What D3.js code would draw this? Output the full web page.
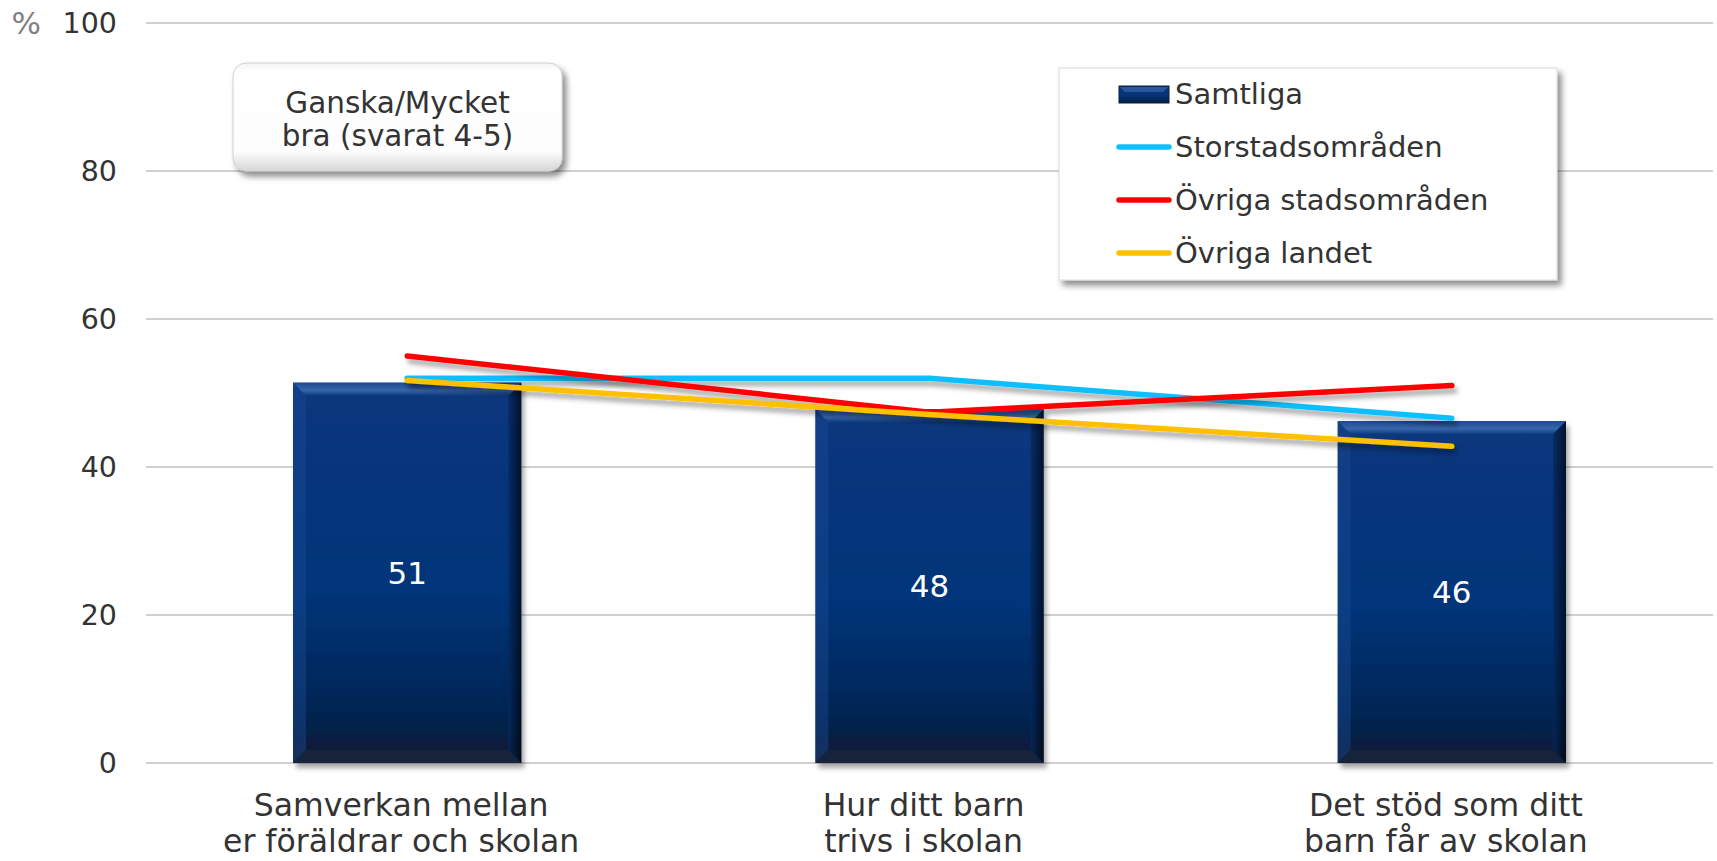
<!DOCTYPE html>
<html>
<head>
<meta charset="utf-8">
<script src="https://cdn.jsdelivr.net/npm/d3@7/dist/d3.min.js"></script>
<style>
  body { margin:0; background:#fff; }
  svg { display:block; font-family:"DejaVu Sans", Verdana, sans-serif; }
</style>
</head>
<body>
<div id="chart"></div>
<script>
(function () {
    // data
    var categories = ["Samverkan mellan\ner föräldrar och skolan",
                      "Hur ditt barn\ntrivs i skolan",
                      "Det stöd som ditt\nbarn får av skolan"];
    var samtliga      = [51.4, 47.8, 46.2];
    var storstad      = [52.0, 52.0, 46.6];
    var ovrigaStad    = [55.0, 47.4, 51.0];
    var ovrigaLandet  = [51.7, 47.1, 42.8];
    var yTicks = [0, 20, 40, 60, 80, 100];
    var seriesNames = ["Samtliga", "Storstadsområden", "Övriga stadsområden", "Övriga landet"];
    var lineColors  = ["#10bfff", "#ff0000", "#ffc000"];
    var boxText = ["Ganska/Mycket", "bra (svarat 4-5)"];

    var W = 1717, H = 861;
    var margin = {top:23, left:146, right:4, bottom:98};
    var width = W - margin.left - margin.right,
        height = H - margin.top - margin.bottom;

    var svg = d3.select("#chart").append("svg")
                .attr("width", W).attr("height", H);

    var defs = svg.append("defs");

    var g1 = defs.append("linearGradient").attr("id","barGrad")
                 .attr("x1",0).attr("y1",0).attr("x2",0).attr("y2",1);
    g1.append("stop").attr("offset","0%").attr("stop-color","#07377e");
    g1.append("stop").attr("offset","55%").attr("stop-color","#063479");
    g1.append("stop").attr("offset","85%").attr("stop-color","#052656");
    g1.append("stop").attr("offset","100%").attr("stop-color","#081931");

    var gt = defs.append("linearGradient").attr("id","topBev")
                 .attr("x1",0).attr("y1",0).attr("x2",0).attr("y2",1);
    gt.append("stop").attr("offset","0%").attr("stop-color","#1d4b92");
    gt.append("stop").attr("offset","60%").attr("stop-color","#3866ab");
    gt.append("stop").attr("offset","100%").attr("stop-color","#0b3b80");

    var gr = defs.append("linearGradient").attr("id","rightBev")
                 .attr("x1",0).attr("y1",0).attr("x2",1).attr("y2",0);
    gr.append("stop").attr("offset","0%").attr("stop-color","#05295e");
    gr.append("stop").attr("offset","100%").attr("stop-color","#000510");

    var g2 = defs.append("linearGradient").attr("id","boxGrad")
                 .attr("x1",0).attr("y1",0).attr("x2",0).attr("y2",1);
    g2.append("stop").attr("offset","0%").attr("stop-color","#f4f4f4");
    g2.append("stop").attr("offset","8%").attr("stop-color","#ffffff");
    g2.append("stop").attr("offset","82%").attr("stop-color","#fdfdfd");
    g2.append("stop").attr("offset","100%").attr("stop-color","#d6d6d6");

    var f1 = defs.append("filter").attr("id","shadow")
                 .attr("x","-10%").attr("y","-20%").attr("width","130%").attr("height","160%");
    f1.append("feDropShadow").attr("dx",3).attr("dy",5).attr("stdDeviation",2.5)
      .attr("flood-color","#000").attr("flood-opacity",0.35);

    var f2 = defs.append("filter").attr("id","boxShadow")
                 .attr("x","-10%").attr("y","-20%").attr("width","130%").attr("height","160%");
    f2.append("feDropShadow").attr("dx",4).attr("dy",5).attr("stdDeviation",3)
      .attr("flood-color","#000").attr("flood-opacity",0.45);

    var g = svg.append("g")
               .attr("transform","translate("+margin.left+","+margin.top+")");

    var x = d3.scaleBand().domain(categories).range([0, width])
              .paddingInner(0.563).paddingOuter(0.2815);
    var y = d3.scaleLinear().domain([0,100]).range([height, 0]);

    // gridlines
    g.selectAll(".grid").data(yTicks).enter().append("line")
     .attr("x1",0).attr("x2",width)
     .attr("y1",function(d){ return y(d); }).attr("y2",function(d){ return y(d); })
     .attr("stroke","#c0c0c0").attr("stroke-width",1.5);

    // y axis labels
    var yAxis = d3.axisLeft(y).tickValues(yTicks).tickSize(0).tickPadding(29);
    var ya = g.append("g").call(yAxis);
    ya.select(".domain").remove();
    ya.selectAll("text").attr("font-size",28.5).attr("fill","#333")
      .attr("font-family","DejaVu Sans, Verdana, sans-serif");

    svg.append("text").attr("x",41).attr("y",y(100)+margin.top)
       .attr("dy","0.35em").attr("text-anchor","end")
       .attr("font-size",31).attr("fill","#7f7f7f").text("%");

    // bars with bevel
    var bev = 13;
    var bars = g.selectAll(".bar").data(samtliga).enter().append("g")
                .attr("transform",function(d,i){ return "translate("+x(categories[i])+","+y(d)+")"; });
    var bw = x.bandwidth();
    bars.append("rect").attr("width",bw)
        .attr("height",function(d){ return height - y(d); })
        .attr("fill","url(#barGrad)").attr("filter","url(#shadow)");
    // left bevel
    bars.append("path").attr("d",function(d){
        var h = height - y(d);
        return "M0,0 L"+bev+","+bev+" L"+bev+","+(h-bev)+" L0,"+h+"Z"; })
        .attr("fill","#1a4a90").attr("opacity",0.45);
    // right bevel
    bars.append("path").attr("d",function(d){
        var h = height - y(d);
        return "M"+bw+",0 L"+bw+","+h+" L"+(bw-bev)+","+(h-bev)+" L"+(bw-bev)+","+bev+"Z"; })
        .attr("fill","url(#rightBev)").attr("opacity",0.75);
    // bottom bevel
    bars.append("path").attr("d",function(d){
        var h = height - y(d);
        return "M0,"+h+" L"+bw+","+h+" L"+(bw-bev)+","+(h-bev)+" L"+bev+","+(h-bev)+"Z"; })
        .attr("fill","#17253b").attr("opacity",0.9);
    // top bevel
    bars.append("path").attr("d",function(){
        return "M0,0 L"+bw+",0 L"+(bw-bev)+","+bev+" L"+bev+","+bev+"Z"; })
        .attr("fill","url(#topBev)");
    bars.append("text").attr("x",bw/2)
        .attr("y",function(d){ return (height - y(d))/2; })
        .attr("dy","0.35em").attr("text-anchor","middle")
        .attr("font-size",31).attr("fill","#fff")
        .text(function(d){ return d3.format(".0f")(d); });

    // lines
    var lineGen = d3.line()
                    .x(function(d,i){ return x(categories[i]) + bw/2; })
                    .y(function(d){ return y(d); });
    [storstad, ovrigaStad, ovrigaLandet].forEach(function(s, k){
        g.append("path").datum(s).attr("d", lineGen)
         .attr("fill","none").attr("stroke",lineColors[k])
         .attr("stroke-width",5.5).attr("stroke-linecap","round")
         .attr("stroke-linejoin","round").attr("filter","url(#shadow)");
    });

    // category labels
    var cat = svg.append("g");
    categories.forEach(function(c, i){
        var t = cat.append("text").attr("text-anchor","middle")
                   .attr("font-size",31.5).attr("fill","#333");
        c.split("\n").forEach(function(line, j){
            t.append("tspan").attr("x", margin.left + x(c) + bw/2 - 6)
             .attr("y", 816 + j*36).text(line);
        });
    });

    // annotation box
    var ab = svg.append("g").attr("transform","translate(233,63)");
    ab.append("rect").attr("width",329).attr("height",108).attr("rx",13)
      .attr("fill","url(#boxGrad)").attr("stroke","#d0d0d0").attr("stroke-width",1)
      .attr("filter","url(#boxShadow)");
    boxText.forEach(function(line, j){
        ab.append("text").attr("x",164.5).attr("y",50 + j*33)
          .attr("text-anchor","middle").attr("font-size",29.5).attr("fill","#333")
          .text(line);
    });

    // legend
    var lg = svg.append("g").attr("transform","translate(1059,68)");
    lg.append("rect").attr("width",498).attr("height",212)
      .attr("fill","#fff").attr("stroke","#d9d9d9").attr("stroke-width",1)
      .attr("filter","url(#boxShadow)");
    seriesNames.forEach(function(name, i){
        var row = lg.append("g").attr("transform","translate(0,"+(26 + i*53)+")");
        if (i === 0) {
            row.append("rect").attr("x",60).attr("y",-8).attr("width",50).attr("height",17)
               .attr("fill","url(#barGrad)").attr("stroke","#0a1f3f").attr("stroke-width",1);
            row.append("path").attr("d","M61,-7 L109,-7 L104,-2 L66,-2Z").attr("fill","#3160a6").attr("opacity",0.8);
        } else {
            row.append("line").attr("x1",60).attr("x2",110).attr("y1",0).attr("y2",0)
               .attr("stroke",lineColors[i-1]).attr("stroke-width",5.5).attr("stroke-linecap","round");
        }
        row.append("text").attr("x",116).attr("dy","0.35em")
           .attr("font-size",29).attr("fill","#333").text(name);
    });
})();
</script>
</body>
</html>
